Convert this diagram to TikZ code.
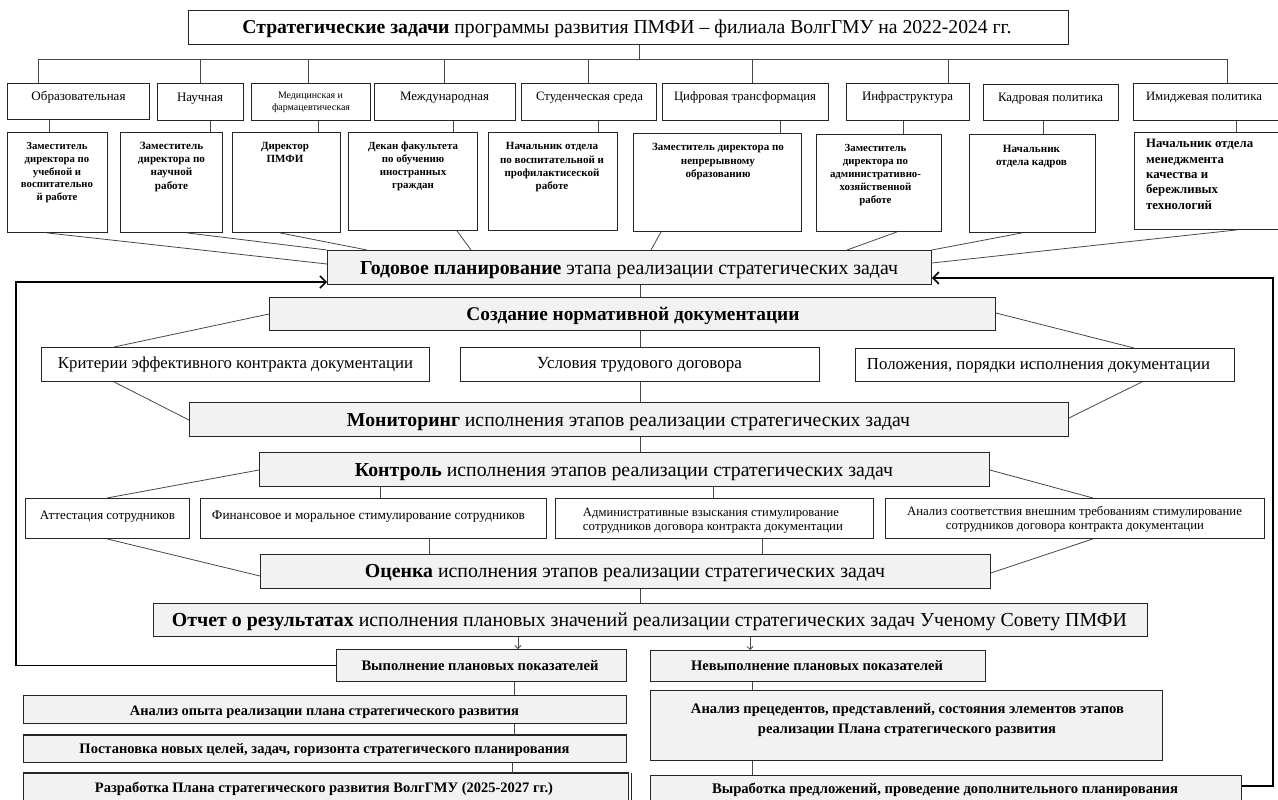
\documentclass[tikz,border=0pt]{standalone}
\usepackage{fontspec}
\setmainfont{Liberation Serif}
\usetikzlibrary{arrows.meta}
\definecolor{boxgray}{HTML}{F2F2F2}
\definecolor{edge}{HTML}{262626}
\newcommand{\fitt}[2]{\resizebox{#1pt}{!}{\begin{tabular}{@{}c@{}}#2\end{tabular}}}
\newcommand{\fitl}[2]{\resizebox{#1pt}{!}{\begin{tabular}{@{}l@{}}#2\end{tabular}}}
\newcommand{\bxx}[6]{\node[#2, anchor=north west, minimum width=#5-#3, minimum height=#6-#4] (#1) at (#3,#4) {};}
\tikzset{
  wbox/.style={draw=edge, line width=0.9pt, fill=white, inner sep=0pt},
  gbox/.style={draw=edge, line width=0.9pt, fill=boxgray, inner sep=0pt},
  txt/.style={inner sep=0pt, yshift=-1.5pt, font=\fontsize{10}{12}\selectfont},
  btxt/.style={inner sep=0pt, yshift=-1.5pt, font=\fontsize{10}{12}\selectfont\bfseries},
  ptxt/.style={inner sep=0pt, yshift=-1pt, font=\fontsize{10}{12}\selectfont\bfseries},
  conn/.style={draw=edge!85, line width=0.8pt},
  fb/.style={draw=black, line width=1.6pt, -{Straight Barb[length=6pt,width=12pt,line width=1.5pt]}},
  dn/.style={draw=edge!85, line width=0.8pt, -{Straight Barb[length=3pt,width=6pt]}},
  thick edge/.style={draw=edge, line width=1.8pt},
}
\begin{document}
\begin{tikzpicture}[x=1pt,y=-1pt]
\useasboundingbox (0,0) rectangle (1278,800);
% ---------- boxes ----------
\bxx{title}{wbox}{188}{10}{1068}{44}
\bxx{c1}{wbox}{7}{83}{149}{119}
\bxx{c2}{wbox}{157}{83}{243}{120}
\bxx{c3}{wbox}{251}{83}{370}{120}
\bxx{c4}{wbox}{374}{83}{515}{120}
\bxx{c5}{wbox}{521}{83}{656}{120}
\bxx{c6}{wbox}{662}{83}{828}{120}
\bxx{c7}{wbox}{846}{83}{969}{120}
\bxx{c8}{wbox}{983}{84}{1118}{120}
\bxx{c9}{wbox}{1133}{83}{1284}{120}
\bxx{p1}{wbox}{7}{132}{107}{232}
\bxx{p2}{wbox}{120}{132}{222}{232}
\bxx{p3}{wbox}{232}{132}{340}{232}
\bxx{p4}{wbox}{348}{132}{477}{230}
\bxx{p5}{wbox}{488}{132}{617}{230}
\bxx{p6}{wbox}{633}{133}{801}{231}
\bxx{p7}{wbox}{816}{134}{941}{231}
\bxx{p8}{wbox}{969}{134}{1095}{232}
\bxx{p9}{wbox}{1134}{132}{1284}{229}
\bxx{g}{gbox}{327}{250}{931}{284}
\bxx{s}{gbox}{269}{297}{995}{330}
\bxx{k1}{wbox}{41}{347}{429}{381}
\bxx{k2}{wbox}{460}{347}{819}{381}
\bxx{k3}{wbox}{855}{348}{1234}{381}
\bxx{m}{gbox}{189}{402}{1068}{436}
\bxx{kt}{gbox}{259}{452}{989}{486}
\bxx{a1}{wbox}{25}{498}{189}{538}
\bxx{a2}{wbox}{200}{498}{546}{538}
\bxx{a3}{wbox}{555}{498}{873}{538}
\bxx{a4}{wbox}{885}{498}{1264}{538}
\bxx{o}{gbox}{260}{554}{990}{588}
\bxx{r}{gbox}{153}{603}{1147}{636}
\bxx{v1}{gbox}{336}{649}{626}{681}
\bxx{v2}{gbox}{650}{650}{985}{681}
\bxx{b1}{gbox}{23}{695}{626}{723}
\bxx{b2}{gbox}{23}{735}{626}{762}
\bxx{b3}{gbox}{23}{773}{628}{806}
\bxx{n1}{gbox}{650}{690}{1162}{760}
\bxx{n2}{gbox}{650}{775}{1241}{806}
% heavier edges seen on the lower left boxes
\draw[thick edge] (b2.north west) -- (b2.north east);
\draw[thick edge] (b3.north west) -- (b3.north east);
\draw[draw=edge, line width=0.9pt] (b3.north east) ++(3,0) -- ++(0,33);
% ---------- texts ----------
\node[txt] (titleT) at (627,27) {\fitt{769}{\textbf{Стратегические задачи} программы развития ПМФИ – филиала ВолгГМУ на 2022-2024 гг.}};
\node[txt] (c1t) at (78.5,96) {\fitt{94}{Образовательная}};
\node[txt] (c2t) at (200,97) {\fitt{46}{Научная}};
\node[txt] (c3a) at (310.5,95) {\fitt{65}{Медицинская и}};
\node[txt] (c3b) at (311,107) {\fitt{78}{фармацевтическая}};
\node[txt] (c4t) at (444.5,96) {\fitt{89}{Международная}};
\node[txt] (c5t) at (589.5,96) {\fitt{107}{Студенческая среда}};
\node[txt] (c6t) at (745,96) {\fitt{142}{Цифровая трансформация}};
\node[txt] (c7t) at (907.5,96) {\fitt{91}{Инфраструктура}};
\node[txt] (c8t) at (1050.5,97) {\fitt{105}{Кадровая политика}};
\node[txt] (c9t) at (1204,96) {\fitt{116}{Имиджевая политика}};
\node[ptxt] (p1t) at (57,171.5) {\fitt{72}{Заместитель\\директора по\\учебной и\\воспитательно\\й работе}};
\node[ptxt] (p2t) at (171.5,165.5) {\fitt{67}{Заместитель\\директора по\\научной\\работе}};
\node[ptxt] (p3t) at (285,152.5) {\fitt{48}{Директор\\ПМФИ}};
\node[ptxt] (p4t) at (413,165.5) {\fitt{90}{Декан факультета\\по обучению\\иностранных\\граждан}};
\node[ptxt] (p5t) at (552,166) {\fitt{104}{Начальник отдела\\по воспитательной  и\\профилактисеской\\работе}};
\node[ptxt] (p6t) at (718,160.5) {\fitt{132}{Заместитель директора по\\непрерывному\\образованию}};
\node[ptxt] (p7t) at (875.5,173.5) {\fitt{91}{Заместитель\\директора по\\административно-\\хозяйственной\\работе}};
\node[ptxt] (p8t) at (1031.5,155.5) {\fitt{71}{Начальник\\отдела кадров}};
\node[ptxt, anchor=west] (p9t) at (1146,174.5) {\fitl{107}{Начальник отдела\\менеджмента\\качества и\\бережливых\\технологий}};
\node[txt] (gt) at (629,268) {\fitt{538}{\textbf{Годовое планирование} этапа реализации стратегических задач}};
\node[btxt] (st) at (633,314) {\fitt{333}{Создание нормативной документации}};
\node[txt] (k1t) at (235.5,363) {\fitt{355}{Критерии эффективного контракта документации}};
\node[txt] (k2t) at (639.5,363) {\fitt{205}{Условия трудового договора}};
\node[txt] (k3t) at (1038.5,364) {\fitt{343}{Положения, порядки исполнения документации}};
\node[txt] (mt) at (628.5,420) {\fitt{563}{\textbf{Мониторинг} исполнения этапов реализации стратегических задач}};
\node[txt] (ktt) at (624,470) {\fitt{538}{\textbf{Контроль} исполнения этапов реализации стратегических задач}};
\node[txt] (a1t) at (107.5,515) {\fitt{135}{Аттестация сотрудников}};
\node[txt] (a2t) at (368.5,515) {\fitt{313}{Финансовое и моральное стимулирование сотрудников}};
\node[txt] (a3a) at (711,512) {\fitt{256}{Административные взыскания стимулирование}};
\node[txt] (a3b) at (713,526) {\fitt{260}{сотрудников договора контракта документации}};
\node[txt] (a4a) at (1074.5,511) {\fitt{335}{Анализ соответствия внешним требованиям стимулирование}};
\node[txt] (a4b) at (1075,525) {\fitt{258}{сотрудников договора контракта документации}};
\node[txt] (ot) at (625,571) {\fitt{520}{\textbf{Оценка} исполнения этапов реализации стратегических задач}};
\node[txt] (rt) at (649.5,620) {\fitt{955}{\textbf{Отчет о результатах} исполнения плановых значений реализации стратегических задач Ученому Совету ПМФИ}};
\node[btxt] (v1t) at (480,665) {\fitt{237}{Выполнение плановых показателей}};
\node[btxt] (v2t) at (817,666) {\fitt{252}{Невыполнение плановых показателей}};
\node[btxt] (b1t) at (324.5,711) {\fitt{389}{Анализ опыта реализации плана стратегического развития}};
\node[btxt] (b2t) at (324.5,749) {\fitt{490}{Постановка новых целей, задач, горизонта стратегического планирования}};
\node[btxt] (b3t) at (324,788) {\fitt{458}{Разработка Плана стратегического развития ВолгГМУ (2025-2027 гг.)}};
\node[btxt] (n1a) at (907.5,708) {\fitt{433}{Анализ прецедентов, представлений, состояния элементов этапов}};
\node[btxt] (n1b) at (907,729) {\fitt{298}{реализации Плана стратегического развития}};
\node[btxt] (n2t) at (945,788) {\fitt{466}{Выработка предложений, проведение дополнительного планирования}};
% ---------- connectors ----------
\coordinate (busL) at (38,59);
\coordinate (busR) at (1227,59);
\draw[conn] (busL) -- (busR);
\draw[conn] (title.south -| 639,0) -- (busL -| 639,0);
\foreach \n/\x in {c1/38,c2/200,c3/308,c4/444,c5/588,c6/752,c7/948,c9/1227}
  \draw[conn] (busL -| \x,0) -- (\n.north -| \x,0);
\foreach \c/\p/\x in {c1/p1/49,c2/p2/210,c3/p3/318,c4/p4/453,c5/p5/598,c6/p6/780,c7/p7/903,c8/p8/1043,c9/p9/1236}
  \draw[conn] (\c.south -| \x,0) -- (\p.north -| \x,0);
\draw[conn] (p1.south -| 47,0) -- (g.west |- 0,264);
\draw[conn] (p2.south -| 187,0) -- (g.north west);
\draw[conn] (p3.south -| 280,0) -- (g.north -| 367,0);
\draw[conn] (p4.south -| 457,0) -- (g.north -| 471,0);
\draw[conn] (p6.south -| 661,0) -- (g.north -| 651,0);
\draw[conn] (p7.south -| 897,0) -- (g.north -| 847,0);
\draw[conn] (p8.south -| 1022,0) -- (g.north east);
\draw[conn] (p9.south -| 1237,0) -- (g.east |- 0,263);
\draw[conn] (g.south -| 640,0) -- (s.north -| 640,0);
\draw[conn] (s.west |- 0,314) -- (k1.north -| 114,0);
\draw[conn] (s.south -| 640,0) -- (k2.north -| 640,0);
\draw[conn] (s.east |- 0,313) -- (k3.north -| 1134,0);
\draw[conn] (k1.south -| 114,0) -- (m.west |- 0,420);
\draw[conn] (k2.south -| 640,0) -- (m.north -| 640,0);
\draw[conn] (k3.south -| 1142,0) -- (m.east |- 0,418);
\draw[conn] (m.south -| 640,0) -- (kt.north -| 640,0);
\draw[conn] (kt.west |- 0,470) -- (a1.north -| 107,0);
\draw[conn] (kt.south -| 380,0) -- (a2.north -| 380,0);
\draw[conn] (kt.south -| 713,0) -- (a3.north -| 713,0);
\draw[conn] (kt.east |- 0,470) -- (a4.north -| 1093,0);
\draw[conn] (a1.south -| 107,0) -- (o.west |- 0,576);
\draw[conn] (a2.south -| 429,0) -- (o.north -| 429,0);
\draw[conn] (a3.south -| 762,0) -- (o.north -| 762,0);
\draw[conn] (a4.south -| 1093,0) -- (o.east |- 0,573);
\draw[conn] (o.south -| 640,0) -- (r.north -| 640,0);
\draw[dn] (r.south -| 518,0) -- (v1.north -| 518,0);
\draw[dn] (r.south -| 750,0) -- (v2.north -| 750,0);
\draw[conn] (v1.south -| 514,0) -- (b1.north -| 514,0);
\draw[conn] (b1.south -| 514,0) -- (b2.north -| 514,0);
\draw[conn] (b2.south -| 512,0) -- (b3.north -| 512,0);
\draw[conn] (v2.south -| 752,0) -- (n1.north -| 752,0);
\draw[conn] (n1.south -| 752,0) -- (n2.north -| 752,0);
\draw[fb] (v1.west) -- ++(-320,0) |- (g.west |- 0,282);
\draw[fb] (n2.east |- 0,786) -- ++(31,0) |- (g.east |- 0,278);
\end{tikzpicture}
\end{document}
